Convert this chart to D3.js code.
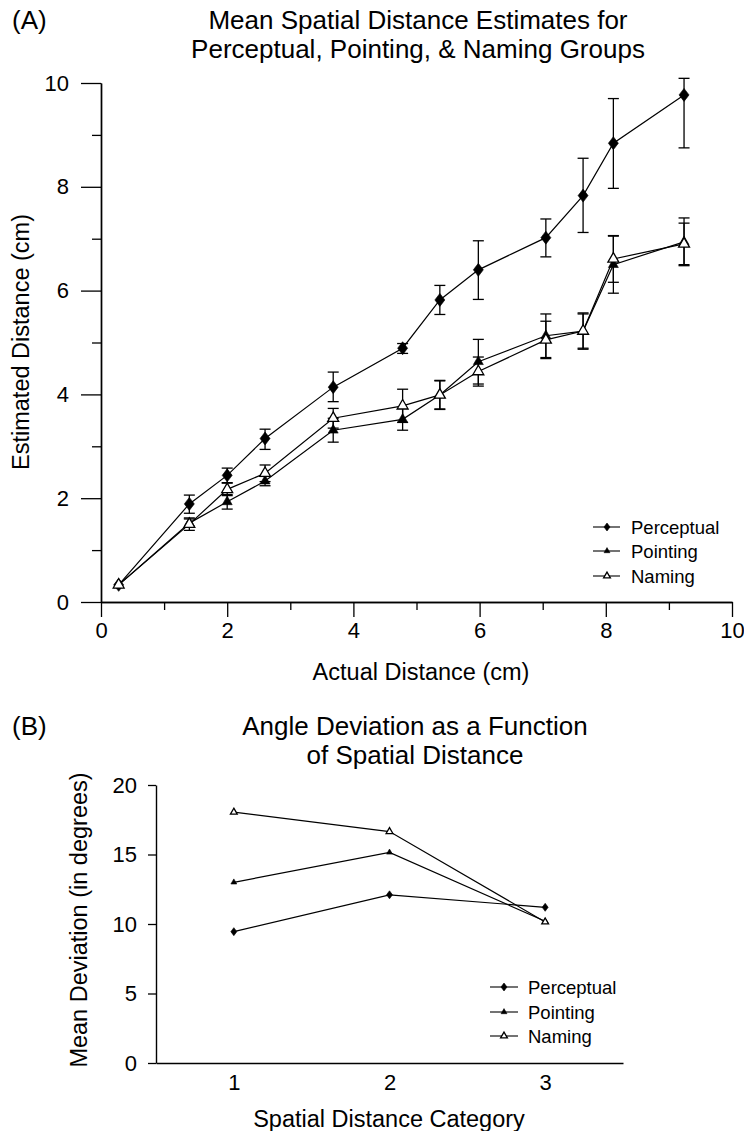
<!DOCTYPE html>
<html>
<head>
<meta charset="utf-8">
<script src="https://cdn.jsdelivr.net/npm/d3@7"></script>
<style>
  body { margin: 0; background: #fff; }
  text { font-family: "Liberation Sans", Arial, sans-serif; fill: #000; }
</style>
</head>
<body>
<div id="chart"></div>
<script>
// ---- panel A data: mean estimated distance (cm) by actual distance (cm)
var distances = [0.28, 1.4, 2.0, 2.6, 3.68, 4.78, 5.37, 5.98, 7.05, 7.64, 8.12, 9.24];
var perceptual = [0.33, 1.89, 2.44, 3.15, 4.14, 4.89, 5.82, 6.40, 7.02, 7.83, 8.84, 9.77];
var perceptualUp = [0, 0.17, 0.14, 0.18, 0.29, 0.09, 0.28, 0.56, 0.36, 0.72, 0.86, 0.32];
var perceptualDown = [0, 0.18, 0.14, 0.21, 0.28, 0.10, 0.28, 0.57, 0.37, 0.71, 0.87, 1.02];
var pointing = [0.33, 1.52, 1.93, 2.33, 3.31, 3.52, 3.99, 4.63, 5.13, 5.22, 6.50, 6.94];
var pointingErr = [0, 0.08, 0.14, 0.09, 0.23, 0.21, 0.28, 0.43, 0.42, 0.35, 0.55, 0.46];
var naming = [0.33, 1.50, 2.17, 2.48, 3.54, 3.78, 3.99, 4.44, 5.05, 5.22, 6.61, 6.90];
var namingErr = [0, 0.12, 0.12, 0.16, 0.19, 0.32, 0.27, 0.28, 0.36, 0.33, 0.45, 0.40];
var xMajorA = [0, 2, 4, 6, 8, 10];
var xMinorA = [1, 3, 5, 7, 9];
var yMajorA = [0, 2, 4, 6, 8, 10];
var yMinorA = [1, 3, 5, 7, 9];

// ---- panel B data: mean angle deviation (degrees) by distance category
var categories = [1, 2, 3];
var perceptualB = [9.45, 12.1, 11.2];
var pointingB = [13.0, 15.15, 10.2];
var namingB = [18.05, 16.65, 10.15];
var yTicksB = [0, 5, 10, 15, 20];

var groupNames = ["Perceptual", "Pointing", "Naming"];

var svg = d3.select("#chart").append("svg")
    .attr("width", 744)
    .attr("height", 1131);

//= marker paths, big ones for panel A data, small ones for panel B and legends
function diamond(w, h) {
  var p = d3.path();
  p.moveTo(0, -h / 2); p.lineTo(w / 2, 0); p.lineTo(0, h / 2); p.lineTo(-w / 2, 0); p.closePath();
  return p.toString();
}
function markerPath(shape, big) {
  if (shape == "diamond") return big ? diamond(10, 13) : diamond(6, 8);
  if (shape == "triOpen") return d3.symbol().type(d3.symbolTriangle).size(big ? 52 : 20)();
  return d3.symbol().type(d3.symbolTriangle).size(big ? 43 : 15)();
}
function drawMarker(g, shape, big, x, y) {
  g.append("path")
    .attr("d", markerPath(shape, big))
    .attr("transform", "translate(" + x + "," + y + ")")
    .attr("fill", shape == "triOpen" ? "#fff" : "#000")
    .attr("stroke", "#000")
    .attr("stroke-width", shape == "triOpen" ? 1.3 : 0.6);
}
function styleAxis(g, size) {
  g.select(".domain").attr("stroke", "#000").attr("stroke-width", 1.4);
  g.selectAll(".tick line").attr("stroke", "#000").attr("stroke-width", 1.3);
  g.selectAll("text").style("font-size", size + "px");
}
function addText(x, y, str, size, anchor, rotate) {
  var t = svg.append("text")
    .attr("text-anchor", anchor || "start")
    .style("font-size", size + "px")
    .text(str);
  if (rotate) t.attr("transform", "translate(" + x + "," + y + ") rotate(-90)");
  else t.attr("x", x).attr("y", y);
  return t;
}

// ================= Panel A =================
var xA = d3.scaleLinear().domain([0, 10]).range([101, 732]);
var yA = d3.scaleLinear().domain([0, 10]).range([602, 83]);

var gx = svg.append("g").attr("transform", "translate(0,602)")
  .call(d3.axisBottom(xA).tickValues(xMinorA).tickSize(8).tickFormat("").tickSizeOuter(0));
styleAxis(gx, 22);
gx = svg.append("g").attr("transform", "translate(0,602)")
  .call(d3.axisBottom(xA).tickValues(xMajorA).tickSize(15).tickPadding(5).tickSizeOuter(0));
styleAxis(gx, 22);

var gy = svg.append("g").attr("transform", "translate(101,0)")
  .call(d3.axisLeft(yA).tickValues(yMinorA).tickSize(9).tickFormat("").tickSizeOuter(0));
styleAxis(gy, 22);
gy = svg.append("g").attr("transform", "translate(101,0)")
  .call(d3.axisLeft(yA).tickValues(yMajorA).tickSize(20).tickPadding(12).tickSizeOuter(0));
styleAxis(gy, 22);

var seriesA = [
  { name: groupNames[0], vals: perceptual, up: perceptualUp, down: perceptualDown, shape: "diamond" },
  { name: groupNames[1], vals: pointing, up: pointingErr, down: pointingErr, shape: "triFill" },
  { name: groupNames[2], vals: naming, up: namingErr, down: namingErr, shape: "triOpen" }
];

var lineA = d3.line()
  .x(function(d) { return xA(d[0]); })
  .y(function(d) { return yA(d[1]); });

seriesA.forEach(function(s) {
  var pts = distances.map(function(x, i) { return [x, s.vals[i]]; });
  svg.append("path")
    .attr("d", lineA(pts))
    .attr("fill", "none")
    .attr("stroke", "#000")
    .attr("stroke-width", 1.2);
});

// error bars
seriesA.forEach(function(s) {
  var g = svg.append("g").attr("stroke", "#000").attr("stroke-width", 1.3);
  distances.forEach(function(x, i) {
    if (!s.up[i] && !s.down[i]) return;
    var cx = xA(x), y1 = yA(s.vals[i] + s.up[i]), y2 = yA(s.vals[i] - s.down[i]);
    g.append("line").attr("x1", cx).attr("x2", cx).attr("y1", y1).attr("y2", y2);
    g.append("line").attr("x1", cx - 5.5).attr("x2", cx + 5.5).attr("y1", y1).attr("y2", y1);
    g.append("line").attr("x1", cx - 5.5).attr("x2", cx + 5.5).attr("y1", y2).attr("y2", y2);
  });
});

seriesA.forEach(function(s) {
  var g = svg.append("g");
  distances.forEach(function(x, i) {
    drawMarker(g, s.shape, true, xA(x), yA(s.vals[i]));
  });
});

// legend A
var legendRowsA = [527, 551, 576];
seriesA.forEach(function(s, i) {
  var g = svg.append("g");
  g.append("line").attr("x1", 593).attr("x2", 620)
    .attr("y1", legendRowsA[i]).attr("y2", legendRowsA[i])
    .attr("stroke", "#000").attr("stroke-width", 1.1);
  drawMarker(g, s.shape, false, 607, legendRowsA[i]);
  addText(631, legendRowsA[i] + 6.5, s.name, 18.5);
});

addText(12, 29, "(A)", 26);
addText(418, 29, "Mean Spatial Distance Estimates for", 26, "middle");
addText(418, 58, "Perceptual, Pointing, & Naming Groups", 26, "middle");
addText(421, 680, "Actual Distance (cm)", 23.5, "middle");
addText(29, 342, "Estimated Distance (cm)", 23.5, "middle", true);

// ================= Panel B =================
var xB = d3.scaleLinear().domain([0.5, 3.5]).range([156, 623]);
var yB = d3.scaleLinear().domain([0, 20]).range([1063, 785]);

var gxb = svg.append("g").attr("transform", "translate(0,1063)")
  .call(d3.axisBottom(xB).tickValues(categories).tickSize(0).tickPadding(11).tickFormat(d3.format("d")));
styleAxis(gxb, 22);
var gyb = svg.append("g").attr("transform", "translate(156,0)")
  .call(d3.axisLeft(yB).tickValues(yTicksB).tickSize(8).tickPadding(11).tickSizeOuter(0));
styleAxis(gyb, 22);

var seriesB = [
  { name: groupNames[0], vals: perceptualB, shape: "diamond" },
  { name: groupNames[1], vals: pointingB, shape: "triFill" },
  { name: groupNames[2], vals: namingB, shape: "triOpen" }
];

var lineB = d3.line()
  .x(function(d) { return xB(d[0]); })
  .y(function(d) { return yB(d[1]); });

seriesB.forEach(function(s) {
  var pts = categories.map(function(c, i) { return [c, s.vals[i]]; });
  svg.append("path")
    .attr("d", lineB(pts))
    .attr("fill", "none")
    .attr("stroke", "#000")
    .attr("stroke-width", 1.2);
});
seriesB.forEach(function(s) {
  var g = svg.append("g");
  categories.forEach(function(c, i) {
    drawMarker(g, s.shape, false, xB(c), yB(s.vals[i]));
  });
});

// legend B
var legendRowsB = [987, 1012, 1036];
seriesB.forEach(function(s, i) {
  var g = svg.append("g");
  g.append("line").attr("x1", 490).attr("x2", 518)
    .attr("y1", legendRowsB[i]).attr("y2", legendRowsB[i])
    .attr("stroke", "#000").attr("stroke-width", 1.1);
  drawMarker(g, s.shape, false, 504, legendRowsB[i]);
  addText(528, legendRowsB[i] + 6.5, s.name, 18.5);
});

addText(12, 735, "(B)", 26);
addText(415, 735, "Angle Deviation as a Function", 26, "middle");
addText(415, 764, "of Spatial Distance", 26, "middle");
addText(389, 1127, "Spatial Distance Category", 23.5, "middle");
addText(87, 920, "Mean Deviation (in degrees)", 23.5, "middle", true);
</script>
</body>
</html>
